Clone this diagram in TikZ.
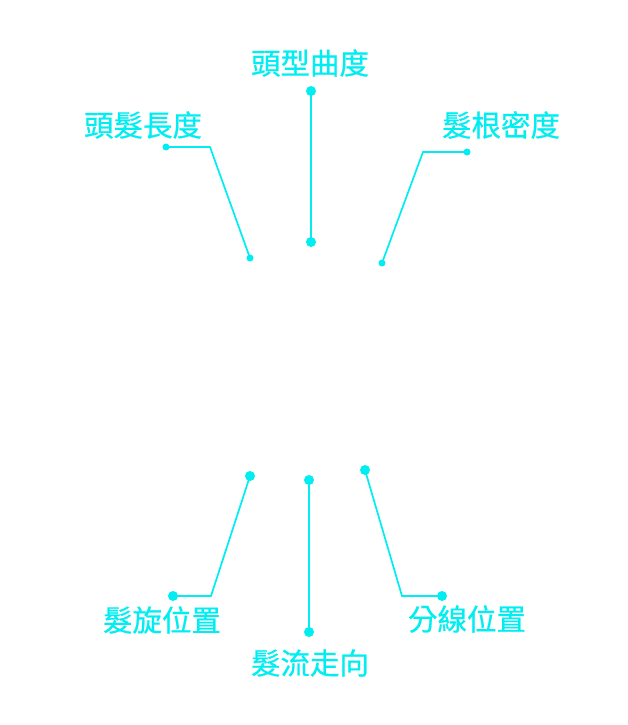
\documentclass[tikz,border=0pt]{standalone}
\usepackage{fontspec}
\newfontfamily\cjk[FakeBold=0.6]{Noto Sans CJK TC}
\definecolor{cy}{RGB}{0,238,242}
\begin{document}
\begin{tikzpicture}[x=1pt,y=-1pt,
  lbl/.style={text=cy,font=\cjk\fontsize{29.5}{32}\selectfont,inner sep=0pt,anchor=center},
  conn/.style={draw=cy,line width=1.7pt},
  bigdot/.style={circle,fill=cy,minimum size=10pt,inner sep=0pt},
  smalldot/.style={circle,fill=cy,minimum size=7pt,inner sep=0pt}]
\useasboundingbox[fill=white] (0,0) rectangle (627,725);
% labels
\node[lbl] (tA) at (310,63) {頭型曲度};
\node[lbl] (tB) at (143,125) {頭髮長度};
\node[lbl] (tC) at (501,125) {髮根密度};
\node[lbl] (tD) at (162,620) {髮旋位置};
\node[lbl] (tE) at (310,663) {髮流走向};
\node[lbl] (tF) at (467,619) {分線位置};
% top centre
\node[bigdot] (a1) at (311,91) {};
\node[bigdot] (a2) at (311,242) {};
\draw[conn] (a1.center) -- (a2.center);
% top left
\node[smalldot] (b1) at (166,147) {};
\coordinate (b2) at (210,147);
\node[smalldot] (b3) at (250,258) {};
\draw[conn] (b1.center) -- (b2) -- (b3.center);
% top right
\node[smalldot] (c1) at (467,152) {};
\coordinate (c2) at (423,152);
\node[smalldot] (c3) at (382,263) {};
\draw[conn] (c1.center) -- (c2) -- (c3.center);
% bottom left
\node[bigdot] (d1) at (250,476) {};
\coordinate (d2) at (211,596);
\node[bigdot] (d3) at (173,596) {};
\draw[conn] (d1.center) -- (d2) -- (d3.center);
% bottom centre
\node[bigdot] (e1) at (309,480) {};
\node[bigdot] (e2) at (309,632) {};
\draw[conn] (e1.center) -- (e2.center);
% bottom right
\node[bigdot] (f1) at (365,470) {};
\coordinate (f2) at (402,596);
\node[bigdot] (f3) at (442,596) {};
\draw[conn] (f1.center) -- (f2) -- (f3.center);
\end{tikzpicture}
\end{document}
